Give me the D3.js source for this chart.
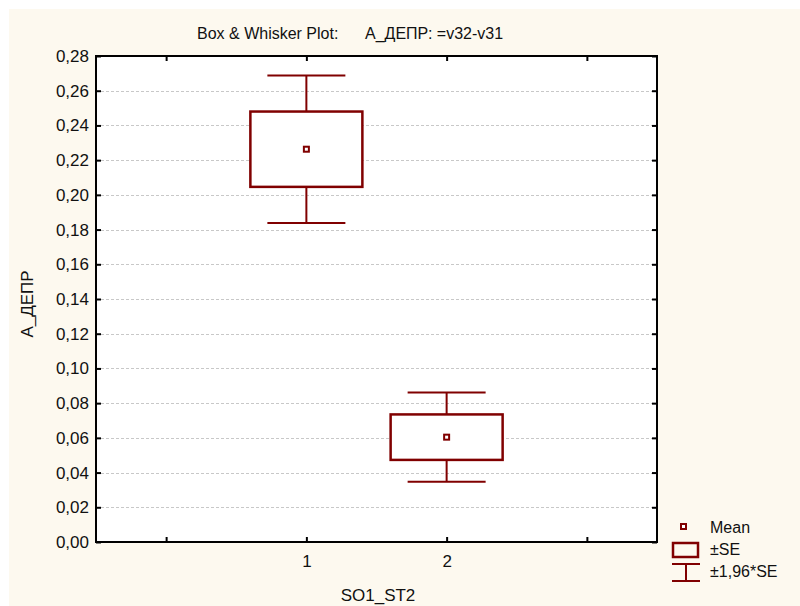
<!DOCTYPE html>
<html>
<head>
<meta charset="utf-8">
<script src="https://cdn.jsdelivr.net/npm/d3@7"></script>
<style>
  body { margin: 0; background: #ffffff; }
  text { font-family: Arial, "Liberation Sans", sans-serif; fill: #111; }
</style>
</head>
<body>
<script>
// groups and their statistics (mean, standard error)
var groups = [1, 2];
var means = [0.2263, 0.0604];
var se = [0.0217, 0.0131];
var yTicks = [0, 0.02, 0.04, 0.06, 0.08, 0.10, 0.12, 0.14, 0.16, 0.18, 0.20, 0.22, 0.24, 0.26, 0.28];
var xTicks = [0, 1, 2, 3];
var legendLabels = ["Mean", "±SE", "±1,96*SE"];

var W = 800, H = 606;
var margin = {top: 56, right: 143, bottom: 64, left: 96},
    width = W - margin.left - margin.right,
    height = H - margin.top - margin.bottom;

var color = "#800000";
var font = "Arial, 'Liberation Sans', sans-serif";
var fmt = function(d) { return d3.format(".2f")(d).replace(".", ","); };

var svg = d3.select("body").append("svg")
    .attr("width", W)
    .attr("height", H);

// cream background
svg.append("rect")
    .attr("x", 9).attr("y", 9)
    .attr("width", W - 9).attr("height", H - 9)
    .attr("fill", "#fdf9ef");

var g = svg.append("g")
    .attr("transform", "translate(" + margin.left + "," + margin.top + ")");

// set the ranges
var x = d3.scaleLinear().domain([-0.5, 3.5]).range([0, width]);
var y = d3.scaleLinear().domain([0, 0.28]).range([height, 0]);

// plot area
g.append("rect")
    .attr("width", width).attr("height", height)
    .attr("fill", "#ffffff");

// grid lines
g.selectAll(".grid")
    .data(yTicks.filter(function(d) { return d > 0 && d < 0.28; }))
  .enter().append("line")
    .attr("x1", 0).attr("x2", width)
    .attr("y1", function(d) { return Math.round(y(d)) + 0.5; })
    .attr("y2", function(d) { return Math.round(y(d)) + 0.5; })
    .attr("stroke", "#c8c8c8")
    .attr("stroke-dasharray", "3,2");

// Y axis (left) with labels, inward ticks
var yAxisL = g.append("g")
    .call(d3.axisLeft(y).tickValues(yTicks).tickFormat(fmt).tickSize(-5).tickPadding(7));
yAxisL.select(".domain").remove();
yAxisL.selectAll("line").attr("stroke", "#000").attr("stroke-width", 2);
yAxisL.selectAll("text").attr("font-size", 17).attr("fill", "#111")
    .attr("font-family", font);

// Y axis (right), ticks only
var yAxisR = g.append("g")
    .attr("transform", "translate(" + width + ",0)")
    .call(d3.axisRight(y).tickValues(yTicks).tickFormat("").tickSize(-5));
yAxisR.select(".domain").remove();
yAxisR.selectAll("line").attr("stroke", "#000").attr("stroke-width", 2);

// X axis (bottom) with labels only at groups
var xAxisB = g.append("g")
    .attr("transform", "translate(0," + height + ")")
    .call(d3.axisBottom(x).tickValues(xTicks)
      .tickFormat(function(d) { return groups.indexOf(d) >= 0 ? d : ""; })
      .tickSize(-5).tickPadding(13));
xAxisB.select(".domain").remove();
xAxisB.selectAll("line").attr("stroke", "#000").attr("stroke-width", 2);
xAxisB.selectAll("text").attr("font-size", 17).attr("fill", "#111")
    .attr("font-family", font);

// X axis (top), ticks only
var xAxisT = g.append("g")
    .call(d3.axisTop(x).tickValues(xTicks).tickFormat("").tickSize(-5));
xAxisT.select(".domain").remove();
xAxisT.selectAll("line").attr("stroke", "#000").attr("stroke-width", 2);

// frame
g.append("rect")
    .attr("width", width).attr("height", height)
    .attr("fill", "none")
    .attr("stroke", "#000")
    .attr("stroke-width", 2);

// boxes and whiskers
var boxHalf = 56, capHalf = 39;
var data = groups.map(function(gr, i) { return {g: gr, mean: means[i], se: se[i]}; });

var items = g.selectAll(".item").data(data).enter().append("g");

items.append("line")
    .attr("x1", function(d) { return x(d.g); })
    .attr("x2", function(d) { return x(d.g); })
    .attr("y1", function(d) { return y(d.mean + 1.96 * d.se); })
    .attr("y2", function(d) { return y(d.mean - 1.96 * d.se); })
    .attr("stroke", color).attr("stroke-width", 2);

items.selectAll(".cap")
    .data(function(d) { return [d.mean + 1.96 * d.se, d.mean - 1.96 * d.se].map(function(v) { return {g: d.g, v: v}; }); })
  .enter().append("line")
    .attr("x1", function(d) { return x(d.g) - capHalf; })
    .attr("x2", function(d) { return x(d.g) + capHalf; })
    .attr("y1", function(d) { return y(d.v); })
    .attr("y2", function(d) { return y(d.v); })
    .attr("stroke", color).attr("stroke-width", 2);

items.append("rect")
    .attr("x", function(d) { return x(d.g) - boxHalf; })
    .attr("y", function(d) { return y(d.mean + d.se); })
    .attr("width", boxHalf * 2)
    .attr("height", function(d) { return y(d.mean - d.se) - y(d.mean + d.se); })
    .attr("fill", "#ffffff")
    .attr("stroke", color).attr("stroke-width", 2.5);

items.append("rect")
    .attr("x", function(d) { return x(d.g) - 2.5; })
    .attr("y", function(d) { return y(d.mean) - 2.5; })
    .attr("width", 5).attr("height", 5)
    .attr("fill", "#ffffff")
    .attr("stroke", color).attr("stroke-width", 2);

// title
var title = svg.append("text")
    .attr("y", 39)
    .attr("font-size", 16);
title.append("tspan").attr("x", 197).text("Box & Whisker Plot:");
title.append("tspan").attr("x", 365).text("А_ДЕПР: =v32-v31");

// axis titles
svg.append("text")
    .attr("x", 378).attr("y", 601)
    .attr("text-anchor", "middle")
    .attr("font-size", 17)
    .text("SO1_ST2");

svg.append("text")
    .attr("transform", "translate(33,304) rotate(-90)")
    .attr("text-anchor", "middle")
    .attr("font-size", 17)
    .text("А_ДЕПР");

// legend
var lg = svg.append("g").attr("transform", "translate(672,518)");
lg.append("rect")
    .attr("x", 9).attr("y", 6).attr("width", 5).attr("height", 5)
    .attr("fill", "#fff").attr("stroke", color).attr("stroke-width", 2);
lg.append("rect")
    .attr("x", 1).attr("y", 25).attr("width", 25).attr("height", 14)
    .attr("fill", "none").attr("stroke", color).attr("stroke-width", 2.5);
lg.append("line").attr("x1", 0).attr("x2", 28).attr("y1", 46).attr("y2", 46)
    .attr("stroke", color).attr("stroke-width", 2);
lg.append("line").attr("x1", 0).attr("x2", 28).attr("y1", 63).attr("y2", 63)
    .attr("stroke", color).attr("stroke-width", 2);
lg.append("line").attr("x1", 14).attr("x2", 14).attr("y1", 46).attr("y2", 63)
    .attr("stroke", color).attr("stroke-width", 2);

lg.selectAll(".lt").data(legendLabels).enter().append("text")
    .attr("x", 38)
    .attr("y", function(d, i) { return 15 + i * 22; })
    .attr("font-size", 16)
    .text(function(d) { return d; });
</script>
</body>
</html>
